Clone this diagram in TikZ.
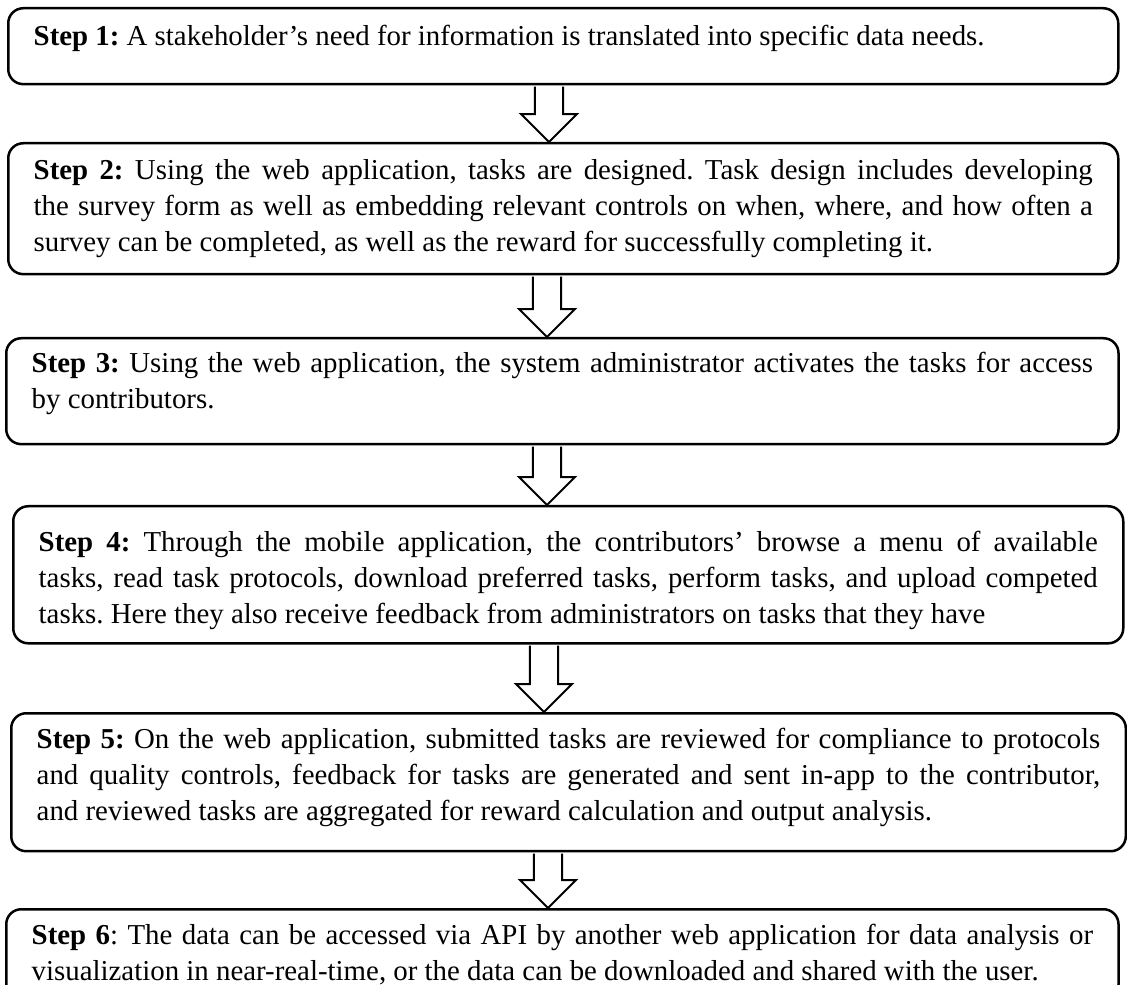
\documentclass[tikz,border=0pt]{standalone}
\usepackage{fontspec}
\setmainfont{Liberation Serif}
\usetikzlibrary{calc}
% hollow block arrow: #1 x position, #2 upper box, #3 lower box
\newcommand{\blockarrow}[3]{%
  \draw[hollowarrow] let \p1=(#1,0 |- #2.south), \p2=(#1,0 |- #3.north) in
    (\x1-6.2pt,\y1-0.5pt) -- (\x1-6.2pt,\y2+12.3pt) -- (\x1-12.3pt,\y2+12.3pt) -- (\x1,\y2)
    -- (\x1+12.3pt,\y2+12.3pt) -- (\x1+6.2pt,\y2+12.3pt) -- (\x1+6.2pt,\y1-0.5pt);}
\begin{document}
\begin{tikzpicture}[x=0.44pt,y=-0.44pt,
  stepbox/.style={draw,line width=1.1pt,rounded corners=6.6pt,anchor=north west,
    inner xsep=11.2pt,inner ysep=0pt,text width=466pt,align=justify,
    font=\fontsize{12.7pt}{15.8pt}\selectfont\frenchspacing},
  hollowarrow/.style={fill=white,line width=0.9pt,line join=miter}]
\useasboundingbox (0,0) rectangle (1127,985);
\clip (0,0) rectangle (1127,985);
\node[stepbox,minimum height=33.4pt] (s1) at (7,7) {\textbf{Step 1:} A stakeholder's need for information is translated into specific data needs.\\[-6pt]\mbox{}};
\node[stepbox,minimum height=57.6pt] (s2) at (7,142) {\textbf{Step 2:} Using the web application, tasks are designed. Task design includes developing\linebreak the survey form as well as embedding relevant controls on when, where, and how often a\linebreak survey can be completed, as well as the reward for successfully completing it.};
\node[stepbox,minimum height=46.6pt,text width=467pt] (s3) at (5,337) {\textbf{Step 3:} Using the web application, the system administrator activates the tasks for access\linebreak by contributors.\rule[-9.7pt]{0pt}{0pt}};
\node[stepbox,minimum height=60.3pt] (s4) at (12,505) {\parfillskip=0pt \rule{0pt}{14pt}\textbf{Step 4:} Through the mobile application, the contributors' browse a menu of available\linebreak tasks, read task protocols, download preferred tasks, perform tasks, and upload competed\linebreak tasks. Here they also receive feedback from administrators on tasks that they have};
\node[stepbox,minimum height=60.7pt,text width=468pt] (s5) at (10,712) {\textbf{Step 5:} On the web application, submitted tasks are reviewed for compliance to protocols\linebreak and quality controls, feedback for tasks are generated and sent in-app to the contributor,\linebreak and reviewed tasks are aggregated for reward calculation and output analysis.\rule[-6.7pt]{0pt}{0pt}};
\node[stepbox,minimum height=39.6pt,text width=467pt] (s6) at (5,908) {\textbf{Step 6}: The data can be accessed via API by another web application for data analysis or\linebreak visualization in near-real-time, or the data can be downloaded and shared with the user.};
\blockarrow{549}{s1}{s2}
\blockarrow{547}{s2}{s3}
\blockarrow{547}{s3}{s4}
\blockarrow{544}{s4}{s5}
\blockarrow{548}{s5}{s6}
\end{tikzpicture}
\end{document}
